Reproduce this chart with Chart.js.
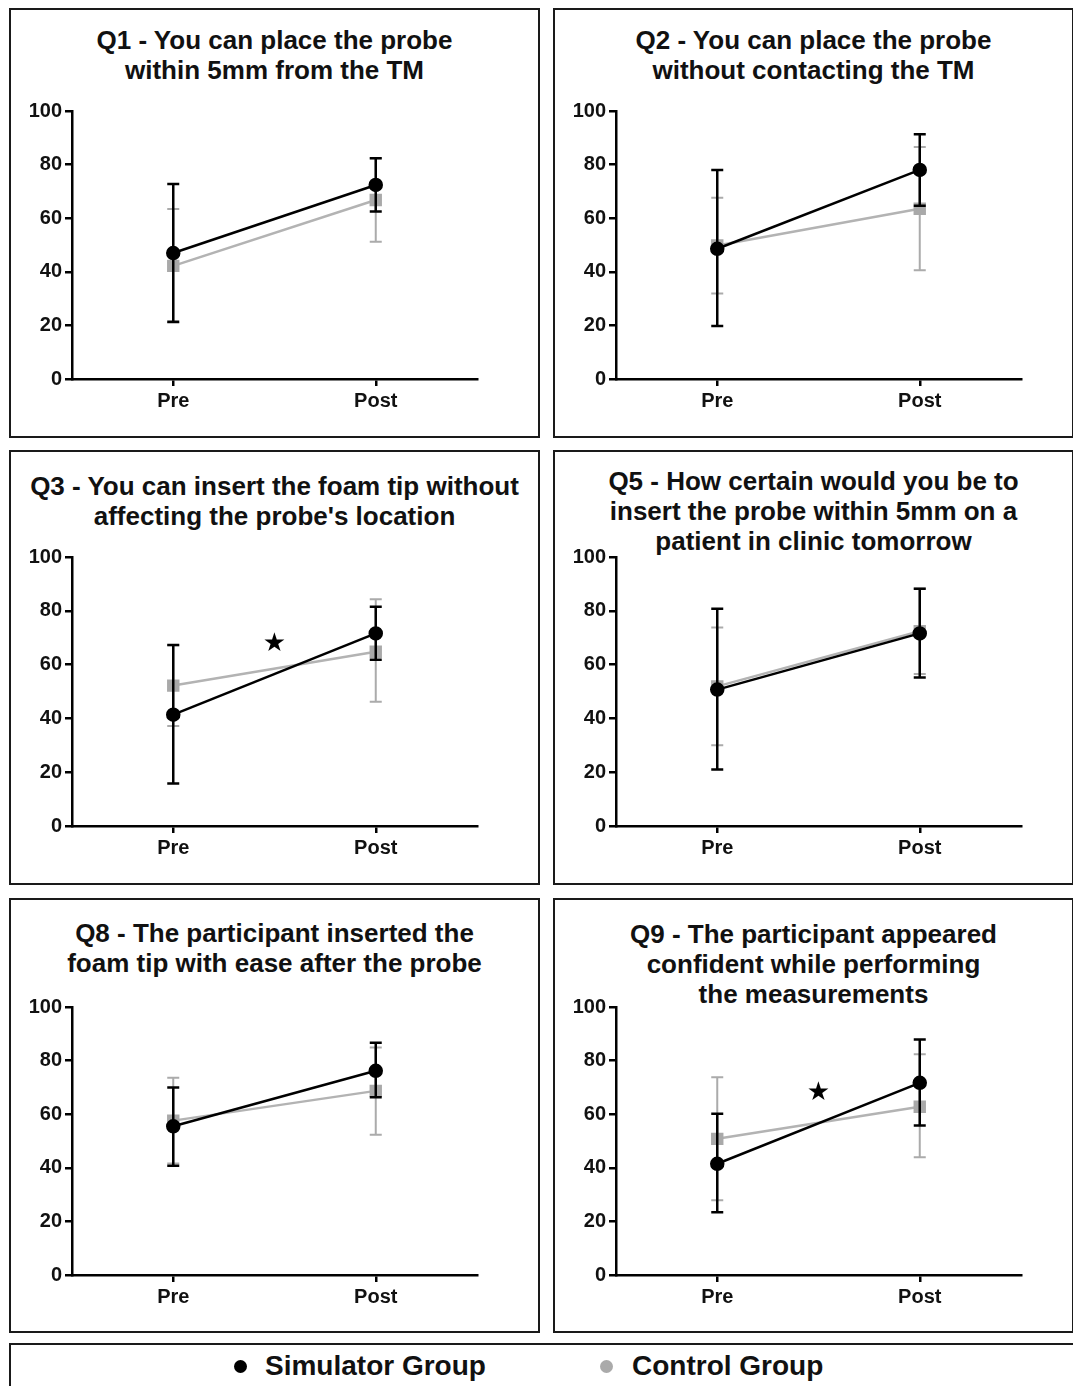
<!DOCTYPE html>
<html>
<head>
<meta charset="utf-8">
<script src="https://cdn.jsdelivr.net/npm/chart.js@4.4.0/dist/chart.umd.min.js"></script>
<style>
  body { margin: 0; background: #fff; font-family: "Liberation Sans", Arial, sans-serif; }
  #page { position: relative; width: 1073px; height: 1386px; overflow: hidden; }
  .panel { position: absolute; box-sizing: border-box; border: 2.5px solid #1a1a1a; }
  .title { position: absolute; text-align: center; font-weight: bold; font-size: 26px; line-height: 30px; color: #111; white-space: nowrap; }
  canvas { position: absolute; }
  .legend { position: absolute; left: 9px; top: 1343px; width: 1070px; height: 60px; box-sizing: border-box; border: 2.5px solid #1a1a1a; }
  .dot { position: absolute; width: 13px; height: 13px; border-radius: 50%; }
  .leg { position: absolute; font-weight: bold; font-size: 28px; color: #111; }
</style>
</head>
<body>
<div id="page"></div>
<script>
// ---- data ----
const categories = ['Pre', 'Post'];

const titles = [
  ['Q1 - You can place the probe', 'within 5mm from the TM'],
  ['Q2 - You can place the probe', 'without contacting the TM'],
  ['Q3 - You can insert the foam tip without', "affecting the probe's location"],
  ['Q5 - How certain would you be to', 'insert the probe within 5mm on a', 'patient in clinic tomorrow'],
  ['Q8 - The participant inserted the', 'foam tip with ease after the probe'],
  ['Q9 - The participant appeared', 'confident while performing', 'the measurements']
];

// Simulator group: mean, lower and upper error bar ends (Pre, Post)
const simMean = [[47, 72.4], [48.6, 78], [41.4, 71.6], [50.7, 71.6], [55.5, 76.2], [41.5, 71.7]];
const simLow  = [[21.4, 62.5], [19.8, 64.6], [15.8, 61.8], [21, 55.2], [40.8, 66.3], [23.4, 55.8]];
const simHigh = [[72.8, 82.4], [78, 91.3], [67.3, 81.5], [80.8, 88.2], [70, 86.7], [60.2, 87.9]];

// Control group
const ctrlMean = [[42.2, 66.8], [49.8, 63.5], [52.2, 64.8], [51.9, 72.4], [57.6, 68.7], [50.8, 62.8]];
const ctrlLow  = [[21, 51.2], [31.9, 40.6], [37.2, 46.2], [30, 56.5], [41.6, 52.3], [27.9, 43.9]];
const ctrlHigh = [[63.4, 82.4], [67.6, 86.6], [67.2, 84.3], [73.8, 88.3], [73.6, 84.9], [73.8, 82.4]];

// significance star (y value, placed midway between Pre and Post)
const starY = [null, null, 67.7, null, null, 67.8];

// ---- layout ----
const colLeft = [9, 553];
const colWidth = [531, 521];
const rowTop = [8, 450, 898];
const rowHeight = [430, 435, 435];
const plotTop = [110, 556, 1006];
const plotBottom = [379, 826, 1275];
const titleTop = [25, 25, 471, 466, 918, 919];

const FONT = '"Liberation Sans", Arial, sans-serif';
const page = document.getElementById('page');

const errorBars = {
  id: 'errorBars',
  beforeDatasetDraw(chart, args) {
    const ds = chart.data.datasets[args.index];
    if (!ds.errLow) return;
    const ctx = chart.ctx;
    const xs = chart.scales.x, ys = chart.scales.y;
    ctx.save();
    ctx.strokeStyle = ds.errColor;
    ctx.lineWidth = ds.errWidth;
    ds.data.forEach((v, i) => {
      const x = xs.getPixelForValue(i);
      const y1 = ys.getPixelForValue(ds.errLow[i]);
      const y2 = ys.getPixelForValue(ds.errHigh[i]);
      ctx.beginPath();
      ctx.moveTo(x, y1); ctx.lineTo(x, y2);
      ctx.moveTo(x - 6, y1); ctx.lineTo(x + 6, y1);
      ctx.moveTo(x - 6, y2); ctx.lineTo(x + 6, y2);
      ctx.stroke();
    });
    ctx.restore();
  }
};

const star = {
  id: 'star',
  afterDatasetsDraw(chart, args, opts) {
    if (opts.y == null) return;
    const ctx = chart.ctx;
    ctx.save();
    ctx.fillStyle = '#000';
    ctx.font = '26px "DejaVu Sans"';
    ctx.textAlign = 'center';
    ctx.textBaseline = 'middle';
    ctx.fillText('\u2605', chart.scales.x.getPixelForValue(0.5), chart.scales.y.getPixelForValue(opts.y));
    ctx.restore();
  }
};

titles.forEach((lines, k) => {
  const col = k % 2, row = Math.floor(k / 2);
  const left = colLeft[col], w = colWidth[col];

  const box = document.createElement('div');
  box.className = 'panel';
  box.style.left = left + 'px';
  box.style.top = rowTop[row] + 'px';
  box.style.width = w + 'px';
  box.style.height = rowHeight[row] + 'px';
  page.appendChild(box);

  const t = document.createElement('div');
  t.className = 'title';
  t.style.left = left + 'px';
  t.style.width = w + 'px';
  t.style.top = titleTop[k] + 'px';
  t.innerHTML = lines.join('<br>');
  page.appendChild(t);

  const cw = w - 6;
  const ch = plotBottom[row] - plotTop[row] + 14 + 50;
  const cv = document.createElement('canvas');
  cv.width = cw; cv.height = ch;
  cv.style.left = (left + 3) + 'px';
  cv.style.top = (plotTop[row] - 14) + 'px';
  page.appendChild(cv);

  const axisFont = { family: FONT, size: 20, weight: 'bold' };
  new Chart(cv.getContext('2d'), {
    type: 'line',
    data: {
      labels: categories,
      datasets: [
        {
          label: 'Simulator Group',
          data: simMean[k],
          errLow: simLow[k], errHigh: simHigh[k], errColor: '#000', errWidth: 2.5,
          borderColor: '#000', borderWidth: 2.5,
          pointStyle: 'circle', pointRadius: 6,
          pointBackgroundColor: '#000', pointBorderColor: '#000',
          order: 1
        },
        {
          label: 'Control Group',
          data: ctrlMean[k],
          errLow: ctrlLow[k], errHigh: ctrlHigh[k], errColor: '#ababab', errWidth: 2,
          borderColor: '#b3b3b3', borderWidth: 2.5,
          pointStyle: 'rect', pointRadius: 7,
          pointBackgroundColor: '#a9a9a9', pointBorderColor: '#a9a9a9',
          order: 2
        }
      ]
    },
    options: {
      responsive: false,
      animation: false,
      events: [],
      layout: { padding: { top: 14, right: cw - 60 - 405, left: 0, bottom: 0 } },
      plugins: {
        legend: { display: false },
        tooltip: { enabled: false },
        star: { y: starY[k] }
      },
      scales: {
        x: {
          offset: true,
          grid: { drawOnChartArea: false, drawTicks: true, tickLength: 7, color: '#000', lineWidth: 2.5 },
          border: { display: true, color: '#000', width: 2.5 },
          ticks: { font: axisFont, color: '#111', padding: 3 },
          afterFit: s => { s.height = 50; }
        },
        y: {
          min: 0, max: 100,
          grid: { drawOnChartArea: false, drawTicks: true, tickLength: 7, color: '#000', lineWidth: 2.5 },
          border: { display: true, color: '#000', width: 2.5 },
          ticks: { stepSize: 20, font: axisFont, color: '#111', padding: 3 },
          afterFit: s => { s.width = 60; }
        }
      }
    },
    plugins: [errorBars, star]
  });
});

// shared legend
const legend = document.createElement('div');
legend.className = 'legend';
page.appendChild(legend);
[
  { dot: 240, text: 265, color: '#000', label: 'Simulator Group' },
  { dot: 606, text: 632, color: '#aaa', label: 'Control Group' }
].forEach(it => {
  const d = document.createElement('div');
  d.className = 'dot';
  d.style.left = (it.dot - 6.5) + 'px';
  d.style.top = (1366 - 6.5) + 'px';
  d.style.background = it.color;
  page.appendChild(d);
  const s = document.createElement('div');
  s.className = 'leg';
  s.style.left = it.text + 'px';
  s.style.top = '1350px';
  s.textContent = it.label;
  page.appendChild(s);
});
</script>
</body>
</html>
